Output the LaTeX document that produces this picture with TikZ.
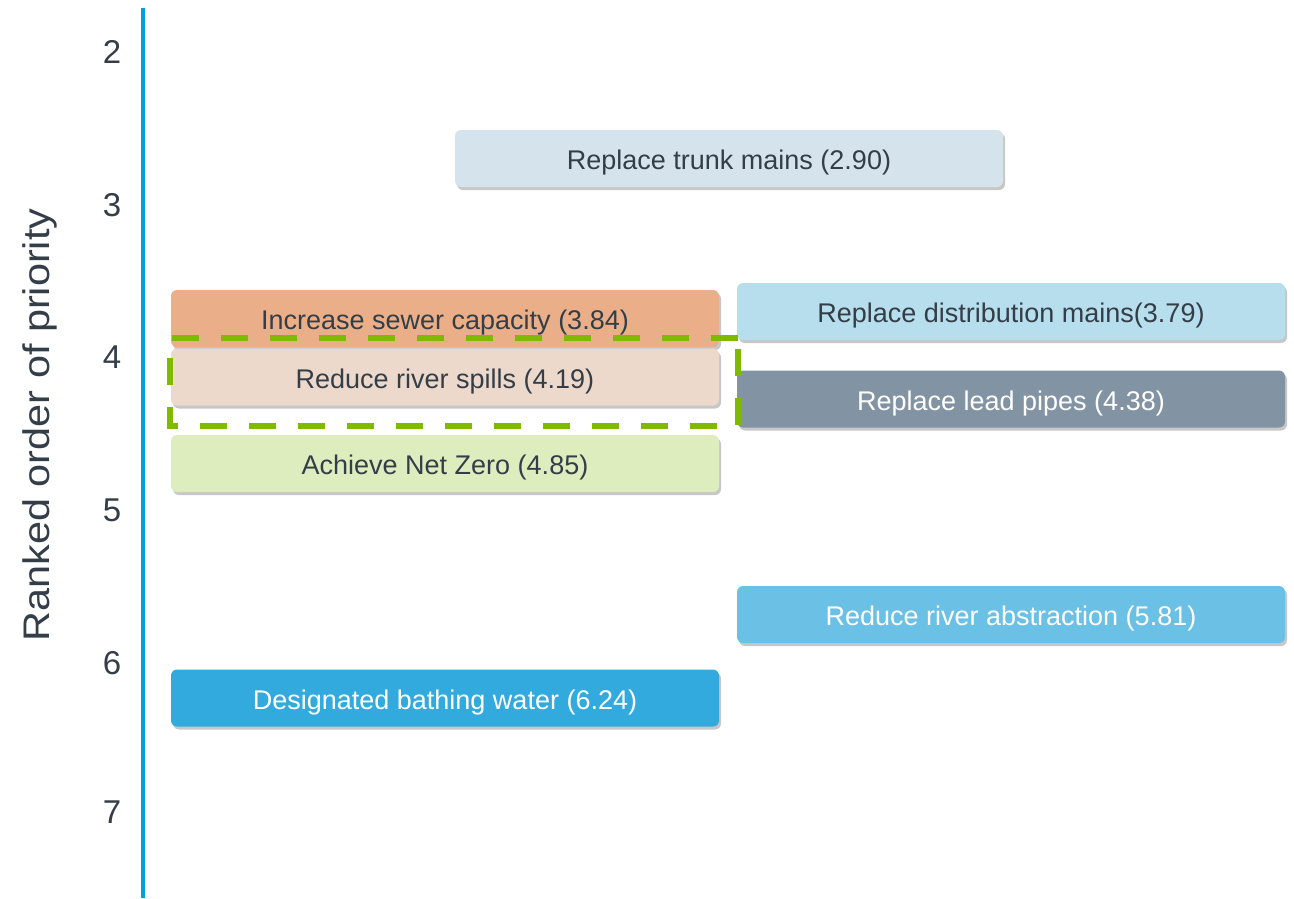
\documentclass[tikz,border=0pt]{standalone}
\usepackage{fontspec}
\setmainfont{Liberation Sans}
\usetikzlibrary{shadows}
\definecolor{axisblue}{RGB}{0,160,222}
\definecolor{txtdark}{RGB}{52,62,72}
\definecolor{ctrunk}{RGB}{213,228,236}
\definecolor{csewer}{RGB}{234,175,136}
\definecolor{cspill}{RGB}{236,217,203}
\definecolor{cnet}{RGB}{222,237,190}
\definecolor{cdist}{RGB}{183,222,236}
\definecolor{clead}{RGB}{130,148,163}
\definecolor{cabs}{RGB}{107,192,230}
\definecolor{cbath}{RGB}{50,170,222}
\definecolor{dgreen}{RGB}{128,186,0}
\tikzset{
  prio/.style={rounded corners=6pt, minimum width=548pt, minimum height=57pt,
    inner sep=0pt, text height=22pt, text depth=0pt,
    font=\fontsize{27}{32}\selectfont, text=txtdark,
    drop shadow={shadow xshift=2pt, shadow yshift=-3pt, opacity=0.22, fill=black}},
  light/.style={text=white},
  tick/.style={font=\fontsize{33}{40}\selectfont, text=txtdark, anchor=center},
  hl/.style={draw=dgreen, line width=6.5pt, dash pattern=on 27pt off 22pt}
}
\begin{document}
\begin{tikzpicture}[x=1pt,y=-1pt]
\useasboundingbox (0,0) rectangle (1294,898);
\fill[white] (0,0) rectangle (1294,898);
% axis
\coordinate (atop) at (143,8);
\coordinate (abot) at (143,898);
\draw[axisblue, line width=4pt] (atop) -- (abot);
\node[tick] (t2) at (112,52) {2};
\node[tick] (t3) at (112,205) {3};
\node[tick] (t4) at (112,357) {4};
\node[tick] (t5) at (112,510) {5};
\node[tick] (t6) at (112,663) {6};
\node[tick] (t7) at (112,812) {7};
\node[rotate=90, font=\fontsize{37}{42}\selectfont, text=txtdark] (atitle) at (40,425) {\scalebox{1.12}[1]{Ranked order of priority}};
% boxes
\node[prio, fill=ctrunk] (trunk) at (729,158.5) {Replace trunk mains (2.90)};
\node[prio, fill=cdist] (dist) at (1011,311.5) {Replace distribution mains(3.79)};
\node[prio, fill=csewer] (sewer) at (445,318.5) {Increase sewer capacity (3.84)};
\node[prio, fill=cspill] (spill) at (445,377) {Reduce river spills (4.19)};
\node[prio, fill=clead, light] (lead) at (1011,399) {Replace lead pipes (4.38)};
\node[prio, fill=cnet] (net) at (445,463.5) {Achieve Net Zero (4.85)};
\node[prio, fill=cabs, light] (abs) at (1011,614.5) {Reduce river abstraction (5.81)};
\node[prio, fill=cbath, light] (bath) at (445,698) {Designated bathing water (6.24)};
% highlight
\coordinate (hA) at (738,338);
\coordinate (hB) at (170,426);
\draw[hl] (hA) -| (hB) -| (hA);
\end{tikzpicture}
\end{document}
